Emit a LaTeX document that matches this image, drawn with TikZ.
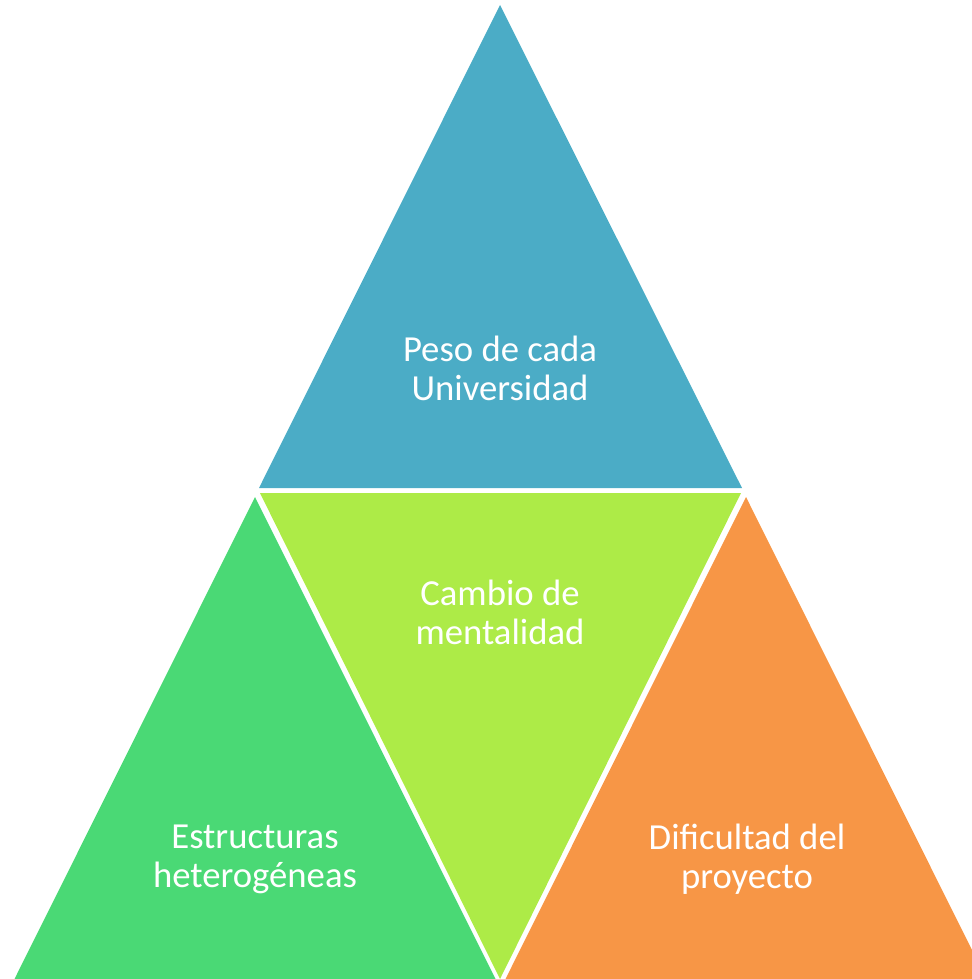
\documentclass[tikz,border=0pt]{standalone}
\usepackage{fontspec}
\setmainfont{Carlito}
\definecolor{pesoblue}{HTML}{4BACC6}
\definecolor{cambiolime}{HTML}{ADEB47}
\definecolor{estrgreen}{HTML}{4AD975}
\definecolor{difiorange}{HTML}{F79646}
\begin{document}
\begin{tikzpicture}[x=0.025cm,y=-0.025cm,
		label text/.style={text=white,align=center,font=\fontsize{26.1}{27.6}\selectfont}]
		\useasboundingbox (0,0) rectangle (972,979);
		\clip (0,0) rectangle (972,979);
\fill[pesoblue] (500,5) -- (259,488) -- (742,488) -- cycle ; % Peso.0 
\fill[cambiolime] (260,493) -- (741,493) -- (500,979) -- cycle ; % Cambio.1 
\fill[estrgreen] (255,497) -- (14,980) -- (496,980) -- cycle ; % Estructuras.2 
\fill[difiorange] (746,497) -- (505,980) -- (987,980) -- cycle ; % Dificultad.3 

\node[label text] (peso) at (500,368) {Peso de cada\\Universidad}; 
\node[label text] (cambio) at (500,612) {Cambio de\\mentalidad}; 
\node[label text] (estr) at (255,859) {Estructuras\\heterogéneas}; 
\node[label text] (difi) at (747,859) {Dificultad del\\proyecto}; 
		\end{tikzpicture}
\end{document}
